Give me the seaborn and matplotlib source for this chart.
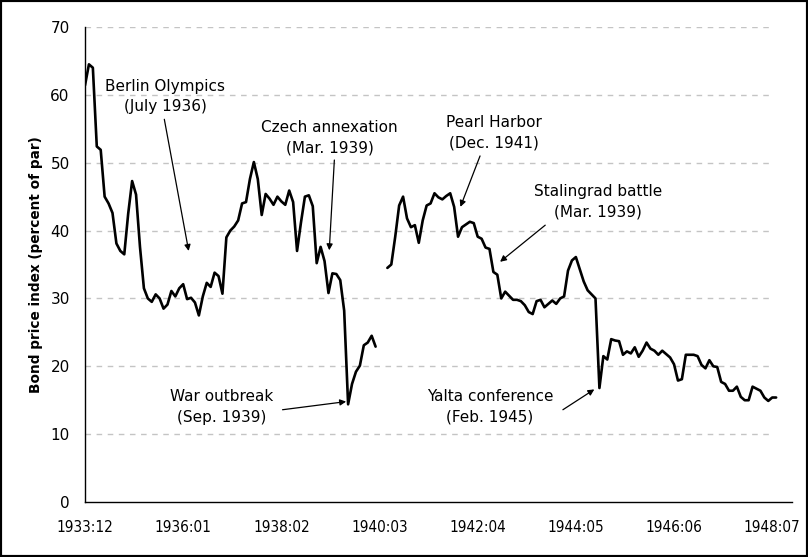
import matplotlib
matplotlib.use('Agg')
import matplotlib.pyplot as plt
from matplotlib.patches import Rectangle
import numpy as np
import pandas as pd
import seaborn as sns

# Monthly bond price index (percent of par)
start_month = '1933-12'

# 1933:12 - 1940:02
prices_before_gap = [
    61.4, 64.5, 64.0, 52.4, 51.9, 45.0, 44.0, 42.6, 38.1, 37.0,
    36.5, 42.5, 47.3, 45.3, 37.6, 31.5, 30.0, 29.5, 30.6, 30.0,
    28.5, 29.1, 31.1, 30.3, 31.5, 32.1, 29.9, 30.1, 29.4, 27.5,
    30.3, 32.3, 31.7, 33.8, 33.3, 30.7, 39.0, 40.0, 40.6, 41.5,
    44.0, 44.2, 47.6, 50.1, 47.6, 42.3, 45.4, 44.7, 43.8, 45.0,
    44.3, 43.8, 45.9, 44.2, 37.0, 41.2, 45.0, 45.2, 43.6, 35.2,
    37.6, 35.5, 30.8, 33.7, 33.6, 32.7, 28.2, 14.4, 17.4, 19.2,
    20.1, 23.1, 23.5, 24.5, 22.9,
]
missing_months = 2
# 1940:05 - 1948:08
prices_after_gap = [
    34.5, 35.0, 39.1, 43.7, 45.0, 41.8, 40.5, 40.8, 38.2, 41.5,
    43.7, 44.0, 45.5, 44.9, 44.6, 45.1, 45.5, 43.5, 39.1, 40.5,
    40.9, 41.3, 41.1, 39.1, 38.8, 37.5, 37.3, 33.9, 33.5, 30.0,
    31.0, 30.4, 29.8, 29.8, 29.6, 29.0, 28.0, 27.7, 29.6, 29.8,
    28.7, 29.2, 29.7, 29.2, 30.0, 30.3, 34.1, 35.6, 36.1, 34.3,
    32.5, 31.2, 30.6, 30.0, 16.8, 21.5, 21.0, 24.0, 23.8, 23.7,
    21.7, 22.2, 21.9, 22.8, 21.4, 22.3, 23.5, 22.6, 22.3, 21.7,
    22.3, 21.8, 21.3, 20.3, 17.9, 18.1, 21.7, 21.7, 21.7, 21.5,
    20.2, 19.7, 20.9, 20.0, 19.9, 17.7, 17.4, 16.4, 16.4, 17.0,
    15.5, 15.0, 15.0, 17.0, 16.7, 16.4, 15.4, 14.9, 15.4, 15.4,
]

tick_labels = ['1933:12', '1936:01', '1938:02', '1940:03',
               '1942:04', '1944:05', '1946:06', '1948:07']

# event label, text position, arrow start, arrow tip (month index, price)
events = [
    ('Berlin Olympics\n(July 1936)', (20.4, 59.8), (20.2, 56.4), (26.4, 37.0)),
    ('Czech annexation\n(Mar. 1939)', (62.3, 53.7), (63.5, 50.4), (62.2, 37.1)),
    ('Pearl Harbor\n(Dec. 1941)', (104.2, 54.4), (100.6, 51.0), (95.6, 43.5)),
    ('Stalingrad battle\n(Mar. 1939)', (130.7, 44.2), (117.2, 40.8), (105.7, 35.4)),
    ('War outbreak\n(Sep. 1939)', (34.8, 14.0), (50.3, 13.6), (66.5, 14.8)),
    ('Yalta conference\n(Feb. 1945)', (103.1, 14.1), (121.7, 13.6), (129.7, 16.6)),
]

n_total = len(prices_before_gap) + missing_months + len(prices_after_gap)
months = pd.period_range(start_month, periods=n_total, freq='M').strftime('%Y:%m')
df = pd.DataFrame({
    't': np.arange(n_total),
    'price': prices_before_gap + [np.nan] * missing_months + prices_after_gap,
    'segment': [0] * len(prices_before_gap) + [-1] * missing_months + [1] * len(prices_after_gap),
}).dropna()

sns.set_style('white')
plt.rcParams['font.family'] = ['DejaVu Sans']
plt.rcParams['text.color'] = 'black'
plt.rcParams['axes.labelcolor'] = 'black'

fig, ax = plt.subplots(figsize=(8.08, 5.57), dpi=100)
fig.subplots_adjust(left=0.1052, right=0.980, top=0.9515, bottom=0.0987)

sns.lineplot(data=df, x='t', y='price', units='segment', estimator=None,
             color='black', lw=1.9, ax=ax)

ax.set_xlim(0, 180)
ax.set_ylim(0, 70)
ax.set_yticks(range(0, 71, 10))
ax.set_xticks([list(months).index(lab) for lab in tick_labels])
ax.set_xticklabels(tick_labels, family='DejaVu Sans', fontstretch='condensed', fontsize=11)
ax.tick_params(axis='y', labelsize=11, pad=6)
ax.tick_params(axis='x', pad=8)
ax.tick_params(direction='out', length=5, width=1, colors='black', labelcolor='black')

# dashed gridlines stop short of the right end, as in the original
ax.hlines(range(10, 71, 10), 0, 174.3, color='#c4c4c4', linestyle=(0, (4, 4)), lw=1, zorder=0)
sns.despine(ax=ax)
for side in ['left', 'bottom']:
    ax.spines[side].set_color('black')
    ax.spines[side].set_linewidth(1)

ax.set_xlabel('')
ax.set_ylabel('Bond price index (percent of par)', fontweight='bold', fontsize=9.8, labelpad=5)

for label, text_pos, arrow_from, arrow_to in events:
    ax.text(*text_pos, label, ha='center', va='center', fontsize=11, linespacing=1.45)
    ax.annotate('', xy=arrow_to, xytext=arrow_from,
                arrowprops=dict(arrowstyle='-|>', color='black', lw=0.9,
                                mutation_scale=9, shrinkA=0, shrinkB=0))

fig.add_artist(Rectangle((0, 0), 1, 1, transform=fig.transFigure,
                         fill=False, ec='black', lw=3))

fig.savefig('out.png', dpi=100)
